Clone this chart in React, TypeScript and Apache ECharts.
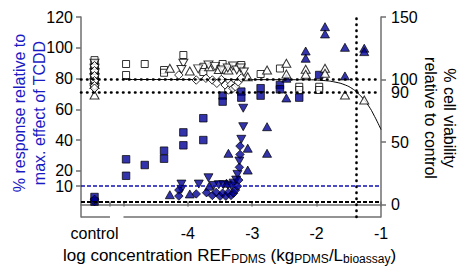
import React, { useEffect, useRef } from 'react';
import * as echarts from 'echarts';

const FONT = '"Liberation Sans", Arial, Helvetica, sans-serif';
const BLUE = '#000096';
const BLUE_TEXT = '#1a1ac4';
const AXIS = '#6f6f6f';

// x positions (log concentration); the control group sits left of the axis break
const CONTROL_X = -5.45;
const xMin = -5.66;
const xMax = -1;
const xTickValues = [-5.21, -5, -4, -3, -2, -1];
const xLabelValues = [CONTROL_X, -4, -3, -2, -1];
const leftTickValues = [0, 10, 20, 40, 60, 80, 100, 120];
const rightTickValues = [0, 50, 100, 150];
const rightLabelValues = [0, 50, 90, 100, 150];
const controlSegment = [-5.66, -5.21];
const mainSegment = [-5, -1];
const ic10X = -1.38;
const viabilityRefs = [100, 90];
const responseRefs = [0, 10];

// % response relative to max. effect of TCDD (left axis)
const ctrlRespSquares = [3, 0];
const ctrlRespDiamonds = [0, 1.5];
const respSquares: [number, number][] = [
  [-4.96, 27.5], [-4.96, 16.8], [-4.67, 23.8], [-4.37, 33.1], [-4.37, 27.9],
  [-4.07, 45], [-4.07, 36.6], [-3.76, 54.2], [-3.76, 40], [-3.46, 68.9],
  [-3.46, 65], [-3.17, 71.5], [-3.17, 67.6], [-2.87, 73.7], [-2.87, 68.9],
  [-2.57, 75.8], [-2.57, 73], [-2.27, 67.6], [-1.96, 82.3],
];
const respUp: [number, number][] = [
  [-4.28, 4.5], [-3.97, 5], [-3.67, 10], [-3.4, 12], [-3.37, 31.4], [-3.07, 34.7],
  [-3.07, 20.5], [-2.77, 48.7], [-2.77, 31.4], [-2.47, 80.2], [-2.47, 67.4],
  [-2.17, 97.9], [-2.17, 93.2], [-1.87, 113.7], [-1.87, 109], [-1.56, 100.3],
  [-1.56, 81.7], [-1.26, 99.7], [-1.26, 97.5],
];
const respDown: [number, number][] = [
  [-4.1, 11.4], [-4.1, 8], [-3.83, 11.4], [-3.68, 15.5], [-3.6, 10.5],
  [-3.52, 11], [-3.45, 11], [-3.38, 10.8], [-3.32, 10], [-3.29, 12],
  [-3.25, 14], [-3.23, 17.7], [-3.2, 26.4], [-3.17, 40.5], [-3.14, 48.7],
  [-3.14, 60.7],
];
const respDiamonds: [number, number][] = [
  [-4.14, 7.5], [-4.14, 3.6], [-3.87, 5], [-3.71, 5.8], [-3.62, 4],
  [-3.56, 6], [-3.5, 3.5], [-3.46, 5.5], [-3.41, 3.5], [-3.37, 6],
  [-3.33, 4], [-3.29, 5.5], [-3.26, 7.5], [-3.23, 10], [-3.21, 14],
  [-3.2, 22.3], [-3.19, 30.7], [-3.19, 36.1],
];

// % cell viability relative to control (right axis)
const ctrlViaSquares = [115.5, 112.5, 110, 107, 104, 101, 98];
const ctrlViaUp = [112, 108, 104, 100, 96, 87.6];
const ctrlViaDown = [113, 109, 105, 101, 97, 92.4];
const ctrlViaDiamonds = [111, 107, 103, 99, 95, 93];
const viaSquares: [number, number][] = [
  [-4.96, 112.4], [-4.96, 103.6], [-4.67, 112.4], [-4.37, 107.6], [-4.37, 105.4],
  [-4.07, 119.6], [-3.76, 110.2], [-3.76, 106], [-3.46, 112.4], [-3.17, 111.6],
  [-2.87, 104.4], [-2.57, 108.8], [-2.27, 94.2], [-2.27, 91.6], [-1.96, 94.2],
  [-1.96, 91.6],
];
const viaUp: [number, number][] = [
  [-4.28, 109], [-3.97, 106.8], [-3.67, 110.2], [-3.52, 108], [-3.37, 107.6],
  [-3.07, 102.2], [-2.77, 107.6], [-2.47, 113], [-2.47, 104.4], [-2.17, 108.2],
  [-2.17, 104.2], [-1.87, 109], [-1.87, 105], [-1.56, 87.6], [-1.26, 83.6],
];
const viaDown: [number, number][] = [
  [-4.07, 113], [-4.1, 108], [-3.84, 108.5], [-3.68, 111.6], [-3.58, 110.5],
  [-3.48, 107.6], [-3.38, 109.2], [-3.3, 110.8], [-3.24, 107.6], [-3.18, 109.2],
  [-3.13, 106],
];
const viaDiamonds: [number, number][] = [
  [-4.14, 103.6], [-3.87, 99.6], [-3.72, 101], [-3.62, 99.6], [-3.55, 97],
  [-3.48, 100], [-3.42, 95.6], [-3.37, 91.6], [-3.33, 96], [-3.3, 93],
  [-3.26, 94.2], [-3.22, 98], [-3.17, 101.2],
];
// fitted viability curve
const viabilityFit: [number, number][] = [
  [-5, 100], [-2.2, 99.8], [-1.9, 99.2], [-1.7, 97.8], [-1.55, 95.5],
  [-1.45, 92.8], [-1.38, 90], [-1.3, 86], [-1.2, 79.5], [-1.1, 70.5], [-1, 60],
];

const withControl = (vals: number[], rest: [number, number][]) =>
  [...vals.map((v) => [CONTROL_X, v]), ...rest];

const blueStyle = { color: BLUE, borderColor: '#000', borderWidth: 0.9 };
const openStyle = { color: '#fff', borderColor: '#000', borderWidth: 1 };

function scat(data: any[], symbol: string, size: any, style: any, yIdx: number, z: number, rotate = 0, extra: any = {}) {
  return {
    type: 'scatter', data, symbol, symbolSize: size, symbolRotate: rotate,
    itemStyle: style, yAxisIndex: yIdx, z, silent: true, emphasis: { disabled: true },
    ...extra,
  };
}

const dotted = { type: [0.5, 5.5], cap: 'round', width: 2.6, color: '#000' };

export default function App() {
  const ref = useRef<HTMLDivElement>(null);
  useEffect(() => {
    if (!ref.current) return;
    const chart = echarts.init(ref.current, null, { renderer: 'svg' });
    const axisLineSeries = (seg: number[]) => ({
      type: 'line', data: [[seg[0], -10], [seg[1], -10]], symbol: 'none', clip: false,
      lineStyle: { color: AXIS, width: 1.5 }, silent: true, z: 1,
    });
    const option: any = {
      animation: false,
      grid: { left: 81, right: 78, top: 17, bottom: 50 },
      xAxis: [
        {
          type: 'value', min: xMin, max: xMax,
          axisLine: { show: false },
          axisTick: { show: true, customValues: xTickValues, length: 5, lineStyle: { color: AXIS, width: 1.5 } },
          axisLabel: {
            customValues: xLabelValues,
            formatter: (v: number) => (v < -5 ? 'control' : String(v)),
            fontSize: 16, color: '#000', fontFamily: FONT, margin: 8,
          },
          splitLine: { show: false },
        },
        {
          type: 'value', position: 'top', min: xMin, max: xMax,
          axisLine: { show: true, lineStyle: { color: AXIS, width: 1.5 } },
          axisTick: { show: false }, axisLabel: { show: false }, splitLine: { show: false },
        },
      ],
      yAxis: [
        {
          type: 'value', min: -10, max: 120, position: 'left',
          axisLine: { show: true, lineStyle: { color: AXIS, width: 1.5 } },
          axisTick: { show: true, customValues: leftTickValues, length: 5, lineStyle: { color: AXIS, width: 1.5 } },
          axisLabel: { customValues: leftTickValues, fontSize: 16, color: '#000', fontFamily: FONT, margin: 8 },
          splitLine: { show: false },
        },
        {
          type: 'value', min: -10, max: 150, position: 'right',
          axisLine: { show: true, lineStyle: { color: AXIS, width: 1.5 } },
          axisTick: { show: true, customValues: rightTickValues, length: 5, lineStyle: { color: AXIS, width: 1.5 } },
          axisLabel: {
            customValues: rightLabelValues, fontSize: 16, color: '#000', fontFamily: FONT, margin: 10,
            lineHeight: 12,
          },
          splitLine: { show: false },
        },
      ],
      series: [
        axisLineSeries(controlSegment),
        axisLineSeries(mainSegment),
        {
          type: 'line', data: viabilityFit, yAxisIndex: 1, symbol: 'none', smooth: true,
          lineStyle: { color: '#000', width: 1 }, silent: true, z: 2,
          markLine: {
            silent: true, symbol: 'none', label: { show: false },
            lineStyle: dotted,
            data: [{ xAxis: ic10X }, ...viabilityRefs.map((v) => ({ yAxis: v }))],
          },
        },
        scat(withControl(ctrlRespSquares, respSquares), 'rect', 7.5, blueStyle, 0, 3, 0, {
          markLine: {
            silent: true, symbol: 'none', label: { show: false },
            data: [
              { yAxis: responseRefs[0], lineStyle: { type: [4, 2], width: 1.8, color: '#000' } },
              { yAxis: responseRefs[1], lineStyle: { type: [4, 2], width: 1.6, color: '#1010b0' } },
            ],
          },
        }),
        scat(respUp, 'triangle', [9, 8], blueStyle, 0, 3),
        scat(respDown, 'triangle', [9, 8], blueStyle, 0, 3, 180),
        scat(withControl(ctrlRespDiamonds, respDiamonds), 'diamond', 8.5, blueStyle, 0, 3),
        scat(withControl(ctrlViaSquares, viaSquares), 'rect', 7, openStyle, 1, 4),
        scat(withControl(ctrlViaUp, viaUp), 'triangle', [9, 8], openStyle, 1, 4),
        scat(withControl(ctrlViaDown, viaDown), 'triangle', [9, 8], openStyle, 1, 4, 180),
        scat(withControl(ctrlViaDiamonds, viaDiamonds), 'diamond', 8.5, openStyle, 1, 4),
      ],
      graphic: [
        {
          type: 'text', x: 19, y: 113, rotation: Math.PI / 2,
          style: { text: '% response relative to', fontSize: 16, fontFamily: FONT, fill: BLUE_TEXT, align: 'center', verticalAlign: 'middle' },
        },
        {
          type: 'text', x: 39, y: 113, rotation: Math.PI / 2,
          style: { text: 'max. effect of TCDD', fontSize: 16, fontFamily: FONT, fill: BLUE_TEXT, align: 'center', verticalAlign: 'middle' },
        },
        {
          type: 'text', x: 449, y: 118, rotation: -Math.PI / 2,
          style: { text: '% cell viability', fontSize: 16, fontFamily: FONT, fill: '#000', align: 'center', verticalAlign: 'middle' },
        },
        {
          type: 'text', x: 430, y: 118, rotation: -Math.PI / 2,
          style: { text: 'relative to control', fontSize: 16, fontFamily: FONT, fill: '#000', align: 'center', verticalAlign: 'middle' },
        },
        {
          type: 'text', x: 63, y: 255,
          style: {
            text: '{m|log concentration REF}{s|PDMS}{m| (kg}{s|PDMS}{m|/L}{s|bioassay}{m|)}',
            align: 'left', verticalAlign: 'middle',
            rich: {
              m: { fontSize: 17, fontFamily: FONT, fill: '#000' },
              s: { fontSize: 12, fontFamily: FONT, fill: '#000', padding: [8, 0, 0, 0] },
            },
          },
        },
      ],
    };
    chart.setOption(option);
    return () => chart.dispose();
  }, []);
  return <div ref={ref} style={{ width: 459, height: 267, position: 'absolute', left: 0, top: 0 }} />;
}
